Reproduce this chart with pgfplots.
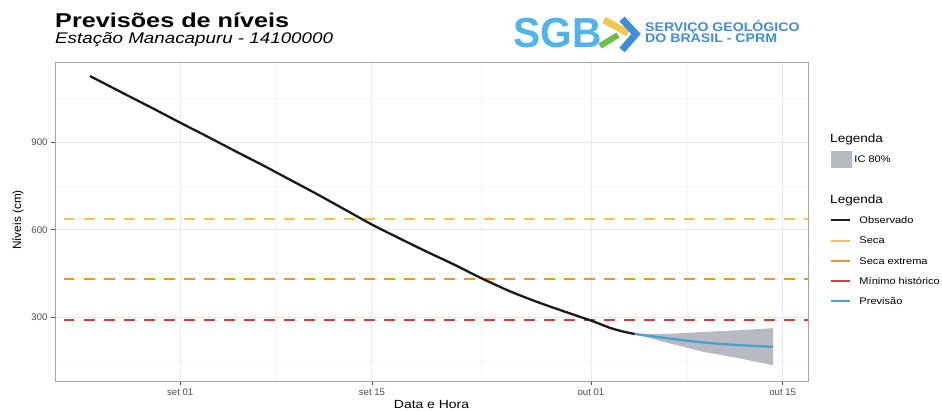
\documentclass[border=0pt]{standalone}
\usepackage{pgfplots}
\pgfplotsset{compat=1.18}
\usepackage{pgfplotstable}
\usepackage{graphicx}
\usepackage{fontspec}
\setmainfont{Liberation Sans}

\definecolor{obs}{HTML}{1A1A1A}
\definecolor{seca}{HTML}{F7C04A}
\definecolor{secaext}{HTML}{F0922B}
\definecolor{minhist}{HTML}{DD3A33}
\definecolor{prev}{HTML}{45A3D3}
\definecolor{band}{HTML}{B7BAC1}
\definecolor{gridmaj}{HTML}{E6EAEE}
\definecolor{gridmin}{HTML}{F3F5F7}
\definecolor{ticktxt}{HTML}{4D4D4D}
\definecolor{panelborder}{HTML}{A5A5A5}
\definecolor{logoblue}{HTML}{3F8BDD}
\definecolor{logolight}{HTML}{4FB4EA}
\definecolor{logoyellow}{HTML}{F2C94C}
\definecolor{logogreen}{HTML}{6CC04A}

% x = days counted from 1 September
\pgfplotstableread{
day level
-6.6 1127
-4.0 1064
-2.0 1016
0.0 967
2.0 919
4.0 870
6.0 822
8.0 772
10.0 722
12.0 670
14.0 618
16.0 571
18.0 525
20.0 481
22.0 434
24.0 391
26.0 354
28.0 321
30.0 289
31.4 264
32.3 252
33.2 243
}\observado

\pgfplotstableread{
day level
33.2 243
34.5 235
35.8 227
37.0 220
38.2 214
39.5 209
40.8 205
42.0 202
43.3 199
}\previsao

% 80% interval: upper edge forward, lower edge back
\pgfplotstableread{
day level
33.2 243
35.8 244
38.2 250
40.8 256
43.3 263
43.3 136
40.8 160
38.2 182
35.8 210
33.2 243
}\banda

\begin{document}
\begin{tikzpicture}[x=1pt,y=1pt]
\useasboundingbox (0,0) rectangle (942,410);

% titles
\node[anchor=base west, inner sep=0pt] at (55,382)
  {\fontsize{20}{24}\selectfont\bfseries\scalebox{1.26}[1]{Previsões de níveis}};
\node[anchor=base west, inner sep=0pt] at (55,366.7)
  {\fontsize{15.4}{18}\selectfont\itshape\scalebox{1.22}[1]{Estação Manacapuru - 14100000}};

% logo
\node[anchor=base west, inner sep=0pt, text=logolight] at (513,362)
  {\fontsize{42}{46}\selectfont\bfseries\scalebox{0.97}[1]{SGB}};
\draw[logoyellow, line width=7pt] (604,390) -- (628,377);
\draw[logoblue, line width=7pt, line join=miter] (622,391) -- (636,376) -- (622,360);
\draw[logogreen, line width=6pt] (600,364) -- (618,375);
\node[anchor=base west, inner sep=0pt, text=logoblue] at (645,378)
  {\fontsize{12.5}{14}\selectfont\bfseries\scalebox{1.13}[1]{SERVIÇO GEOLÓGICO}};
\node[anchor=base west, inner sep=0pt, text=logoblue] at (645,367)
  {\fontsize{12.5}{14}\selectfont\bfseries\scalebox{1.13}[1]{DO BRASIL - CPRM}};

% legend titles
\node[anchor=west, inner sep=0pt] at (830,271)
  {\fontsize{11.8}{14}\selectfont\scalebox{1.15}[1]{Legenda}};
\node[anchor=west, inner sep=0pt] at (830,210)
  {\fontsize{11.8}{14}\selectfont\scalebox{1.15}[1]{Legenda}};

\begin{axis}[
  at={(55pt,29pt)}, anchor=south west,
  scale only axis, width=753pt, height=319pt,
  xmin=-9.15, xmax=45.85, ymin=82, ymax=1175,
  axis line style={draw=panelborder, line width=0.9pt},
  xtick={0,14,30,44},
  xticklabels={set 01,set 15,out 01,out 15},
  minor xtick={7,22,37},
  ytick={300,600,900},
  minor ytick={150,450,750,1050},
  grid=both,
  major grid style={gridmaj, line width=0.9pt},
  minor grid style={gridmin, line width=0.6pt},
  tick align=outside, major tick length=4pt, minor tick length=0pt,
  every tick/.style={ticktxt, line width=0.8pt},
  xtick pos=left, ytick pos=left,
  ticklabel style={font=\fontsize{9.6}{11}\selectfont, text=ticktxt},
  /pgf/number format/assume math mode=true,
  xlabel={\scalebox{1.18}[1]{Data e Hora}},
  ylabel={Níveis (cm)},
  label style={font=\fontsize{11.8}{14}\selectfont},
  xlabel style={at={(axis description cs:0.5,-0.0727)}, anchor=center},
  ylabel style={at={(axis description cs:-0.0491,0.5047)}, anchor=center},
  legend style={
    at={(axis description cs:1.0292,0.7904)}, anchor=north west,
    draw=none, fill=none, inner sep=0pt, outer sep=0pt,
    row sep=0pt, column sep=8pt,
    nodes={inner sep=0pt, text height=13.55pt, text depth=6.75pt,
      anchor=base west, font=\fontsize{9.6}{11}\selectfont},
  },
  legend cell align=left,
  legend image code/.code={\draw[#1] (0pt,3.4pt) -- (19.5pt,3.4pt);},
]

\addplot[fill=band, draw=none, forget plot] table[x=day, y=level] {\banda};

\addplot[seca, line width=2.3pt, dash pattern=on 10.5pt off 9.5pt, dash phase=-9pt, forget plot]
  coordinates {(-9.15,636) (45.85,636)};
\addplot[secaext, line width=2.3pt, dash pattern=on 10.5pt off 9.5pt, dash phase=-9pt, forget plot]
  coordinates {(-9.15,431) (45.85,431)};
\addplot[minhist, line width=2.3pt, dash pattern=on 10.5pt off 9.5pt, dash phase=-9pt, forget plot]
  coordinates {(-9.15,291) (45.85,291)};

\addplot[obs, line width=2.3pt, smooth, tension=0.4, forget plot] table[x=day, y=level] {\observado};
\addplot[prev, line width=2.3pt, smooth, tension=0.4, forget plot] table[x=day, y=level] {\previsao};

% legend rows
\addlegendimage{empty legend}
\addlegendentry{}
\addlegendimage{legend image code/.code={\fill[band] (0pt,-4.6pt) rectangle (20pt,11.4pt);}}
\addlegendentry{\hspace*{-5pt}\scalebox{1.15}[1]{IC 80\%}}
\addlegendimage{empty legend}
\addlegendentry{}
\addlegendimage{empty legend}
\addlegendentry{}
\addlegendimage{obs, line width=2pt}
\addlegendentry{\scalebox{1.15}[1]{Observado}}
\addlegendimage{seca, line width=2pt}
\addlegendentry{\scalebox{1.15}[1]{Seca}}
\addlegendimage{secaext, line width=2pt}
\addlegendentry{\scalebox{1.15}[1]{Seca extrema}}
\addlegendimage{minhist, line width=2pt}
\addlegendentry{\scalebox{1.15}[1]{Mínimo histórico}}
\addlegendimage{prev, line width=2pt}
\addlegendentry{\scalebox{1.15}[1]{Previsão}}
\end{axis}
\end{tikzpicture}
\end{document}
